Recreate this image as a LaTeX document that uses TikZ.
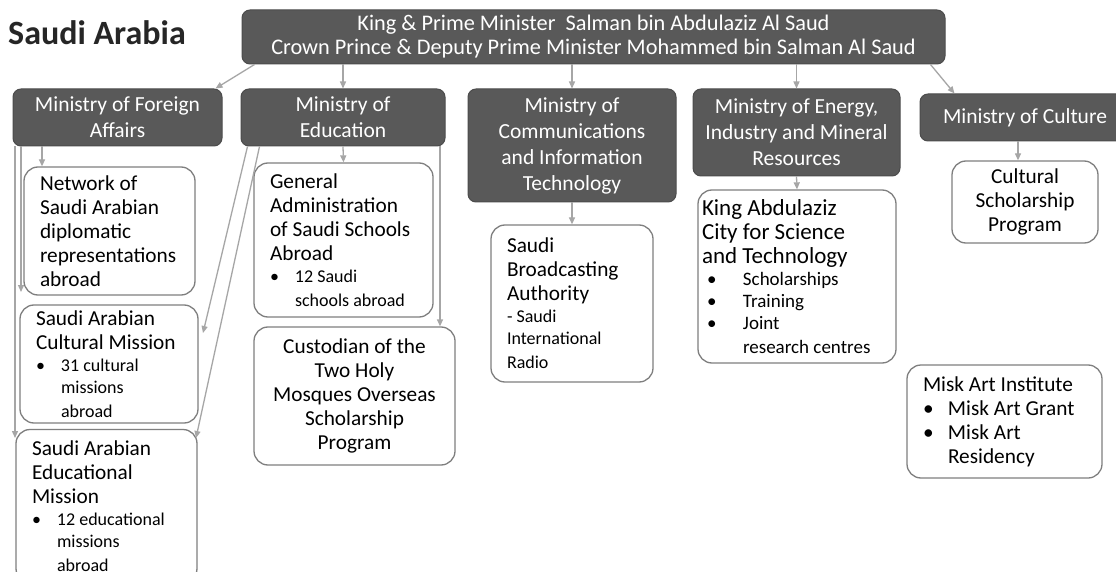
\documentclass[tikz,border=0pt]{standalone}
\usepackage{fontspec}
\setmainfont{Carlito}
\usepackage{tikz}
\usetikzlibrary{arrows.meta,shapes}
\definecolor{boxgray}{HTML}{595959}
\definecolor{linegray}{HTML}{A6A6A6}
\definecolor{framegray}{HTML}{7F7F7F}
\tikzstyle{leader}=[rectangle,rounded corners=8pt,draw=black!70,line width=1pt,fill=boxgray,text=white,align=center,inner sep=0pt,font=\fontsize{22.3}{24}\selectfont]
\tikzstyle{ministry}=[leader,font=\fontsize{21.5}{26}\selectfont]
\tikzstyle{unit}=[rectangle,rounded corners=14pt,draw=framegray,line width=1.3pt,fill=white,align=flush left,inner xsep=16pt,inner ysep=0pt,font=\fontsize{21.3}{24}\selectfont]
\tikzstyle{edge}=[draw,line width=1.3pt,linegray,-{Triangle[length=7pt,width=6pt]}]
\newcommand{\sm}{\fontsize{18}{22}\selectfont}
\newcommand{\bul}{\makebox[25pt][l]{\textbullet}}
\newcommand{\ind}{\hspace*{25pt}}
\newcommand{\wbul}{\hspace*{5pt}\makebox[36pt][l]{\textbullet}}
\newcommand{\wind}{\hspace*{41pt}}

\begin{document}
\begin{tikzpicture}[x=1pt,y=-1pt]
        \path[use as bounding box,fill=white] (0,0) rectangle (1116,572);
        \node[anchor=west,inner sep=0pt,text=black!85,font=\bfseries\fontsize{34}{40}\selectfont] (title) at (8,33) {Saudi Arabia};
        % leadership
        \node[leader,minimum width=703pt,minimum height=54pt] (king) at (593.5,37) {King \& Prime Minister\ \ Salman bin Abdulaziz Al Saud\\Crown Prince \& Deputy Prime Minister Mohammed bin Salman Al Saud};
        % ministries
        \node[ministry,minimum width=209pt,minimum height=57pt] (mfa) at (117.5,117.5) {Ministry of Foreign\\Affairs};
        \node[ministry,minimum width=204pt,minimum height=57pt] (moe) at (343,117.5) {Ministry of\\Education};
        \node[ministry,minimum width=208pt,minimum height=113pt] (mcit) at (572,145.5) {Ministry of\\Communications\\and Information\\Technology};
        \node[ministry,minimum width=207pt,minimum height=87pt] (meimr) at (796.5,132.5) {Ministry of Energy,\\Industry and Mineral\\Resources};
        \node[ministry,minimum width=210pt,minimum height=47pt] (moc) at (1025,117.5) {Ministry of Culture};
        % agencies
        \node[unit,text width=139pt,minimum height=128pt] (net) at (109.5,231) {Network of\\Saudi Arabian\\diplomatic\\representations\\abroad};
        \node[unit,text width=146pt,minimum height=118pt] (cm) at (109,364) {Saudi Arabian\\Cultural Mission\\\sm\bul 31 cultural\\\ind missions\\\ind abroad};
        \node[unit,text width=149pt,minimum height=153pt] (em) at (106.5,506) {Saudi Arabian\\Educational\\Mission\\\sm\bul 12 educational\\\ind missions\\\ind abroad};
        \node[unit,text width=147pt,minimum height=154pt] (ga) at (343.5,240) {General\\Administration\\of Saudi Schools\\Abroad\\\sm\bul 12 Saudi\\\ind schools abroad};
        \node[unit,align=flush center,text width=169pt,minimum height=138pt] (cust) at (354.5,396) {Custodian of the\\Two Holy\\Mosques Overseas\\Scholarship\\Program};
        \node[unit,text width=130pt,minimum height=157pt] (sba) at (572,303.5) {Saudi\\Broadcasting\\Authority\\\sm - Saudi\\International\\Radio};
        \node[unit,inner xsep=4pt,text width=190pt,minimum height=173pt,font=\fontsize{23}{24}\selectfont] (kacst) at (797,276.5) {King Abdulaziz\\City for Science\\and Technology\\\fontsize{19}{22}\selectfont\wbul Scholarships\\\wbul Training\\\wbul Joint\\\wind research centres};
        \node[unit,align=flush center,inner xsep=8pt,text width=130pt,minimum height=82pt] (csp) at (1025,202) {Cultural\\Scholarship\\Program};
        \node[unit,text width=163pt,minimum height=113pt] (misk) at (1004.5,421.5) {Misk Art Institute\\\bul Misk Art Grant\\\bul Misk Art\\\ind Residency};
        % free arrow ends
        \coordinate (cmtip) at (21,292);
        \coordinate (emtip) at (15,438);
        \coordinate (cmtip2) at (203,333);
        \coordinate (emtip2) at (196,438);
        % connectors
        \draw[edge] ([xshift=13pt]king.south west) to ([xshift=-7pt]mfa.north east);
        \draw[edge] (king.south -| moe.north) to (moe.north);
        \draw[edge] (king.south -| mcit.north) to (mcit.north);
        \draw[edge] (king.south -| meimr.north) to (meimr.north);
        \draw[edge] ([xshift=-15pt]king.south east) to ([xshift=35pt]moc.north west);
        \draw[edge] (42,0 |- mfa.south) to (42,0 |- net.north);
        \draw[edge] (mfa.south -| cmtip) to (cmtip);
        \draw[edge] (mfa.south -| emtip) to (emtip);
        \draw[edge] (moe.south) to (ga.north);
        \draw[edge] (440,0 |- moe.south) to (440,0 |- cust.north);
        \draw[edge] ([xshift=7pt]moe.south west) to (cmtip2);
        \draw[edge] ([xshift=19pt]moe.south west) to (emtip2);
        \draw[edge] (mcit.south) to (sba.north);
        \draw[edge] (meimr.south) to (kacst.north);
        \draw[edge] (1018,0 |- moc.south) to (1018,0 |- csp.north);
      \end{tikzpicture}
\end{document}
